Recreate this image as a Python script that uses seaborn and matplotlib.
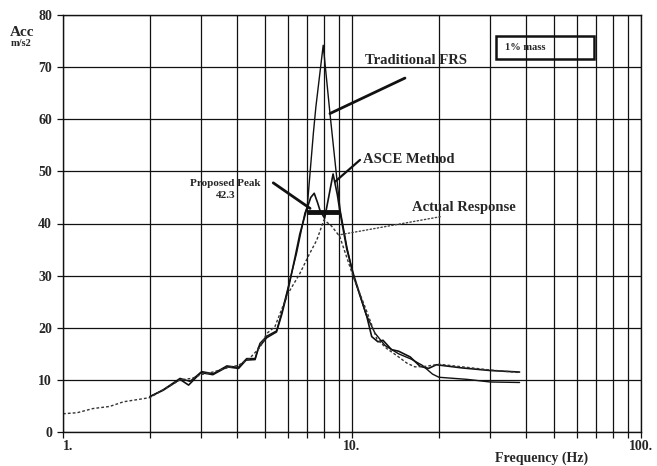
import numpy as np
import pandas as pd
import matplotlib
matplotlib.use("Agg")
import matplotlib.pyplot as plt
from matplotlib.patches import Rectangle
from matplotlib.ticker import FixedLocator, NullFormatter
import seaborn as sns

# Floor response spectra, 1% mass case
trad_freq = [2.0, 2.22, 2.54, 2.75, 3.02, 3.31, 3.69, 4.04, 4.32, 4.62, 4.8, 5.07, 5.48,
             5.71, 6.02, 6.43, 6.87, 7.0, 7.35, 7.5, 7.95, 8.39, 8.7, 9.1, 9.6, 10.1,
             11.2, 12.0, 13.0, 14.5, 16.0, 17.5, 19.0, 20.0, 25.0, 30.0, 38.0]
trad_acc = [6.8, 8.1, 10.3, 9.7, 11.6, 11.2, 12.7, 12.4, 14.1, 14.1, 17.0, 18.4, 19.4,
            22.8, 27.9, 34.3, 42.0, 43.2, 57.3, 62.4, 74.2, 61.1, 52.8, 42.6, 35.5, 30.0,
            22.5, 19.0, 16.6, 15.0, 14.0, 12.8, 11.1, 10.5, 10.1, 9.6, 9.5]

asce_freq = [2.0, 2.22, 2.54, 2.72, 3.0, 3.3, 3.7, 4.05, 4.3, 4.62, 4.75, 5.07, 5.48,
             5.71, 6.02, 6.35, 6.6, 6.95, 7.2, 7.4, 7.6, 7.75, 8.04, 8.3, 8.6, 8.9, 9.1,
             9.6, 10.1, 11.26, 11.7, 12.3, 12.8, 13.7, 14.5, 15.9, 17.2, 18.4, 19.6,
             24.0, 30.0, 38.0]
asce_acc = [6.8, 8.0, 10.1, 9.0, 11.4, 11.0, 12.5, 12.2, 13.8, 13.9, 16.2, 18.1, 19.2,
            22.5, 27.5, 33.5, 38.0, 42.5, 45.0, 45.8, 44.0, 42.5, 41.0, 45.0, 49.5, 45.5,
            42.0, 35.0, 30.4, 22.1, 18.3, 17.3, 17.6, 15.8, 15.5, 14.4, 12.6, 12.2, 12.9,
            12.3, 11.8, 11.5]

actual_freq = [1.0, 1.12, 1.27, 1.45, 1.62, 1.85, 2.0, 2.25, 2.54, 2.8, 3.0, 3.3, 3.7,
               4.05, 4.4, 4.8, 5.07, 5.41, 5.8, 6.1, 6.6, 7.1, 7.55, 8.0, 8.5, 9.07,
               10.1, 11.2, 12.2, 13.2, 14.5, 15.5, 16.5, 18.0, 20.0, 25.0, 30.0, 38.0]
actual_acc = [3.5, 3.7, 4.5, 4.9, 5.8, 6.3, 6.6, 8.3, 10.0, 10.3, 11.0, 11.5, 12.3,
              12.8, 14.0, 16.2, 18.9, 20.2, 24.5, 27.2, 30.4, 34.0, 36.8, 40.7, 39.5, 37.5,
              29.8, 23.4, 17.8, 16.0, 14.4, 13.2, 12.5, 12.6, 13.0, 12.4, 11.9, 11.4]

proposed_peak = 42.3
proposed_band = [7.0, 9.1]

y_ticks = [0, 10, 20, 30, 40, 50, 60, 70, 80]
x_major = [1, 10, 100]
x_major_labels = ["1.", "10.", "100."]

sns.set_style("ticks")
plt.rcParams["font.family"] = ["Liberation Serif", "DejaVu Serif"]
plt.rcParams["font.weight"] = "bold"

W, H = 657, 466
fig = plt.figure(figsize=(W / 100, H / 100), dpi=100)
ax = fig.add_axes([63 / W, 1 - 432 / H, (641 - 63) / W, (432 - 15) / H])

ink = "#111111"
sns.lineplot(x=trad_freq, y=trad_acc, ax=ax, color=ink, lw=1.0, sort=False)
sns.lineplot(x=asce_freq, y=asce_acc, ax=ax, color=ink, lw=1.2, sort=False)
sns.lineplot(x=actual_freq, y=actual_acc, ax=ax, color="#333333", lw=1.0,
             linestyle=(0, (2.0, 1.5)), sort=False)

ax.set_xscale("log")
ax.set_xlim(1, 100)
ax.set_ylim(0, 80)

# grid: every decade subdivision and every 10 m/s2
minor = [m * d for d in (1, 10) for m in range(2, 10)]
ax.xaxis.set_major_locator(FixedLocator(x_major))
ax.xaxis.set_minor_locator(FixedLocator(minor))
ax.xaxis.set_minor_formatter(NullFormatter())
ax.set_xticks(x_major, x_major_labels)
ax.set_yticks(y_ticks, [str(v) for v in y_ticks])
ax.grid(True, which="both", axis="both", color=ink, lw=0.9)
ax.tick_params(axis="both", which="both", length=4, width=0.9, color=ink,
               labelsize=10, pad=2)
ax.tick_params(axis="y", pad=4)
for lab in ax.get_xticklabels() + ax.get_yticklabels():
    lab.set_fontweight("bold")
for s in ax.spines.values():
    s.set_color(ink)
    s.set_linewidth(1.0)
for lab, ha in zip(ax.get_xticklabels(), ["left", "center", "center"]):
    lab.set_horizontalalignment(ha)

# proposed peak bar
ax.hlines(proposed_peak, proposed_band[0], proposed_band[1], color=ink, lw=3.5, zorder=5)

# labels with leader lines
lead = dict(arrowstyle="-", color=ink, shrinkA=0, shrinkB=0)
ax.annotate("", xy=(8.39, 61.1), xytext=(15.25, 67.9), arrowprops=dict(lead, lw=2.0))
ax.annotate("", xy=(8.73, 48.0), xytext=(10.66, 52.2), arrowprops=dict(lead, lw=1.6))
ax.annotate("", xy=(7.16, 42.9), xytext=(5.34, 47.8), arrowprops=dict(lead, lw=2.0))
ax.annotate("", xy=(9.0, 37.8), xytext=(20.2, 41.3),
            arrowprops=dict(lead, lw=1.0, linestyle=":", color="#444444"))

ax.text(16.66, 71.2, "Traditional FRS", ha="center", va="center", fontsize=10.5,
        fontweight="bold")
ax.text(10.9, 52.2, "ASCE Method", ha="left", va="center", fontsize=10.5,
        fontweight="bold")
ax.text(24.3, 43.0, "Actual Response", ha="center", va="center", fontsize=10.5,
        fontweight="bold")
ax.text(3.65, 46.6, "Proposed Peak\n42.3", ha="center", va="center", fontsize=8,
        fontweight="bold", linespacing=1.45)

# annotation box
fig.add_artist(Rectangle((496 / W, 1 - 59 / H), 98 / W, 23 / H, transform=fig.transFigure,
                         fill=False, edgecolor=ink, lw=1.8))
fig.text(505 / W, 1 - 47.5 / H, "1% mass", ha="left", va="center", fontsize=7.5,
         fontweight="bold")

# axis titles
fig.text(22.5 / W, 1 - 33 / H, "Acc", ha="center", va="center", fontsize=11,
         fontweight="bold")
fig.text(21.5 / W, 1 - 44 / H, "m/s2", ha="center", va="center", fontsize=7.5,
         fontweight="bold")
fig.text(541.5 / W, 1 - 458 / H, "Frequency (Hz)", ha="center", va="center",
         fontsize=10, fontweight="bold")

fig.savefig("out.png", dpi=100, facecolor="white")
